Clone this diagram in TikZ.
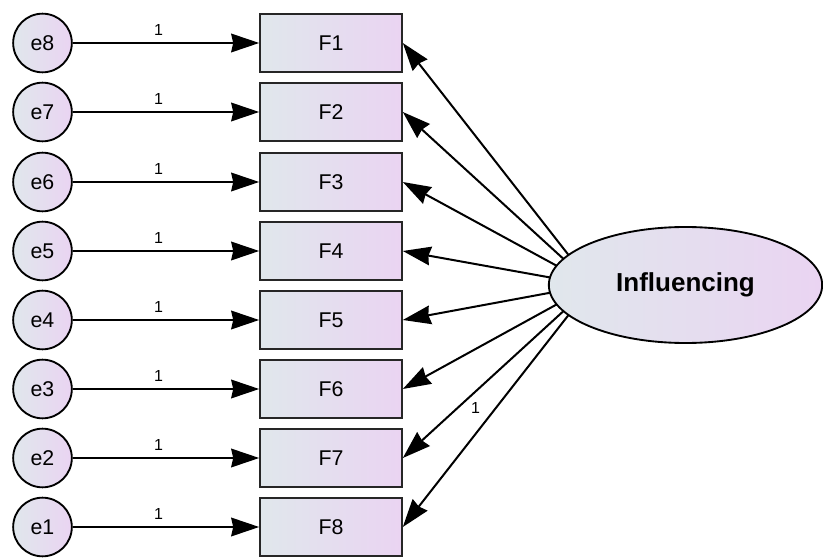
\documentclass[tikz,border=0pt]{standalone}
\usepackage{fontspec}
\setmainfont{Liberation Sans}
\usetikzlibrary{arrows.meta}
\usetikzlibrary{shapes.geometric}
\definecolor{shadeL}{RGB}{224,231,236}
\definecolor{shadeR}{RGB}{234,212,242}
\tikzset{
    errvar/.style={
        circle,
        draw,
        line width=1.4pt,
        minimum size=44pt,
        inner sep=0pt,
        left color=shadeL, right color=shadeR,
        font=\fontsize{16}{19}\selectfont},
    indicator/.style={
        rectangle,
        draw=black!85,
        line width=1.7pt,
        minimum width=106pt,
        minimum height=43pt,
        left color=shadeL, right color=shadeR,
        font=\fontsize{16}{19}\selectfont},
    factor/.style={
        ellipse,
        draw,
        line width=1.4pt,
        minimum width=205pt,
        minimum height=87pt,
        left color=shadeL, right color=shadeR,
        font=\bfseries\fontsize{19.5}{23}\selectfont},
    weight/.style={
        font=\fontsize{12}{14}\selectfont,
        inner sep=2pt},
    every edge/.style={
        draw,
        -{Stealth[length=21pt,width=14pt,inset=1.5pt]},
        line width=1.5pt}}

\begin{document}
\begin{tikzpicture}[x=0.75pt,y=0.75pt]
        \useasboundingbox (0,0) rectangle (823,557);

        \node[errvar] (e8) at (42.5,514) {e8};
        \node[errvar] (e7) at (42.5,445) {e7};
        \node[errvar] (e6) at (42.5,375) {e6};
        \node[errvar] (e5) at (42.5,306) {e5};
        \node[errvar] (e4) at (42.5,237) {e4};
        \node[errvar] (e3) at (42.5,168) {e3};
        \node[errvar] (e2) at (42.5,99) {e2};
        \node[errvar] (e1) at (42.5,30) {e1};

        \node[indicator] (F1) at (331,514) {F1};
        \node[indicator] (F2) at (331,445) {F2};
        \node[indicator] (F3) at (331,375) {F3};
        \node[indicator] (F4) at (331,306) {F4};
        \node[indicator] (F5) at (331,237) {F5};
        \node[indicator] (F6) at (331,168) {F6};
        \node[indicator] (F7) at (331,99) {F7};
        \node[indicator] (F8) at (331,30) {F8};

        \draw (e8) edge node[weight,above=3pt,pos=0.46] {1} (F1);
        \draw (e7) edge node[weight,above=3pt,pos=0.46] {1} (F2);
        \draw (e6) edge node[weight,above=3pt,pos=0.46] {1} (F3);
        \draw (e5) edge node[weight,above=3pt,pos=0.46] {1} (F4);
        \draw (e4) edge node[weight,above=3pt,pos=0.46] {1} (F5);
        \draw (e3) edge node[weight,above=3pt,pos=0.46] {1} (F6);
        \draw (e2) edge node[weight,above=3pt,pos=0.46] {1} (F7);
        \draw (e1) edge node[weight,above=3pt,pos=0.46] {1} (F8);

        % loadings start inside the factor, the ellipse is painted over them
        \coordinate (hub) at (592,272);
        \draw (hub) edge (F1.east);
        \draw (hub) edge (F2.east);
        \draw (hub) edge (F3.east);
        \draw (hub) edge (F4.east);
        \draw (hub) edge (F5.east);
        \draw (hub) edge (F6.east);
        \draw (hub) edge (F7.east);
        \draw (hub) edge node[weight,pos=0.51,xshift=-15pt] {1} (F8.east);

        \node[factor] (infl) at (685.5,272) {Influencing};
    \end{tikzpicture}
\end{document}
